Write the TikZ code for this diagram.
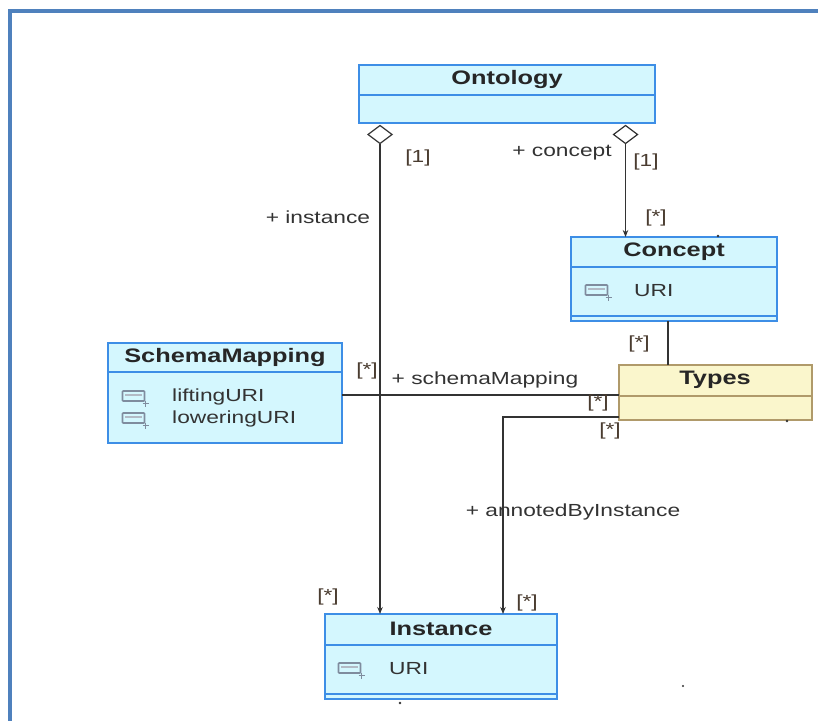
\documentclass[tikz,border=0pt]{standalone}
\usepackage{fontspec}
\setmainfont{Liberation Sans}[FakeStretch=1.3]
\usetikzlibrary{shapes.geometric,arrows.meta}
\definecolor{clsfill}{HTML}{D4F7FE}
\definecolor{clsline}{HTML}{3D8EE6}
\definecolor{typfill}{HTML}{FAF6CC}
\definecolor{typline}{HTML}{B09A6A}
\definecolor{framec}{HTML}{4F81BD}
\definecolor{multc}{HTML}{4A3C30}
\definecolor{connc}{HTML}{333333}
\definecolor{iconc}{HTML}{7F8C9E}
\tikzset{
  cls/.style={draw=clsline, fill=clsfill, line width=1.6pt, rectangle, inner sep=0pt, outer sep=0pt},
  typ/.style={draw=typline, fill=typfill, line width=1.6pt, rectangle, inner sep=0pt, outer sep=0pt},
  clsdiv/.style={draw=clsline, line width=1.6pt},
  typdiv/.style={draw=typline, line width=1.6pt},
  ctitle/.style={font=\bfseries\fontsize{19.5}{22}\selectfont, text=black!85, inner sep=0pt},
  lbl/.style={font=\fontsize{17.5}{20}\selectfont, text=black!80, inner sep=0pt},
  mul/.style={lbl, text=multc},
  assoc/.style={draw=connc, line width=1.4pt},
  arr/.style={assoc, -{Stealth[length=7pt,width=5.5pt]}},
  agg/.style={diamond, draw=connc, fill=white, line width=1.2pt, minimum width=24pt, minimum height=18pt, inner sep=0pt, outer sep=0pt},
  attricon/.pic={
    \draw[iconc, line width=1.6pt, rounded corners=0.8pt] (-12,-6) rectangle (10,4);
    \draw[iconc!60, line width=1.4pt] (-9.5,-2) -- (7.5,-2);
    \draw[iconc, line width=1.2pt] (8,6.5) -- (14,6.5) (11,3.5) -- (11,9.5);
  }
}
\begin{document}
\begin{tikzpicture}[x=1pt,y=-1pt]
\useasboundingbox (0,0) rectangle (818,720);
\fill[white] (0,0) rectangle (818,720);
% frame
\draw[framec, line width=4pt] (10,722) -- (10,11) -- (820,11);

% Ontology
\node[cls, minimum width=296pt, minimum height=58pt] (onto) at (507,94) {};
\draw[clsdiv] (onto.west |- 0,95) -- (onto.east |- 0,95);
\node[ctitle] (ontot) at (507,80) {Ontology};

% Concept
\node[cls, minimum width=206pt, minimum height=84pt] (concept) at (674,279) {};
\draw[clsdiv] (concept.west |- 0,267) -- (concept.east |- 0,267);
\draw[clsdiv] (concept.west |- 0,316) -- (concept.east |- 0,316);
\node[ctitle] (conceptt) at (674,252) {Concept};
\pic at (597.5,291) {attricon};
\node[lbl, anchor=west] (concepturi) at (634,291) {URI};

% Types
\node[typ, minimum width=193pt, minimum height=55pt] (types) at (715.5,392.5) {};
\draw[typdiv] (types.west |- 0,396) -- (types.east |- 0,396);
\node[ctitle] (typest) at (715,380) {Types};

% SchemaMapping
\node[cls, minimum width=234pt, minimum height=100pt] (sm) at (225,393) {};
\draw[clsdiv] (sm.west |- 0,372) -- (sm.east |- 0,372);
\node[ctitle] (smt) at (225,357) {SchemaMapping};
\pic at (134.5,397) {attricon};
\pic at (134.5,419) {attricon};
\node[lbl, anchor=west] (lift) at (172,397) {liftingURI};
\node[lbl, anchor=west] (lower) at (172,419) {loweringURI};

% Instance
\node[cls, minimum width=232pt, minimum height=85pt] (inst) at (441,656.5) {};
\draw[clsdiv] (inst.west |- 0,645) -- (inst.east |- 0,645);
\draw[clsdiv] (inst.west |- 0,694) -- (inst.east |- 0,694);
\node[ctitle] (instt) at (441,629) {Instance};
\pic at (350.5,669) {attricon};
\node[lbl, anchor=west] (insturi) at (389,669) {URI};

% aggregations
\node[agg] (d1) at (380,134.5) {};
\node[agg] (d2) at (625.5,134.5) {};
\draw[arr] (d1.south) -- (d1.south |- inst.north);
\draw[arr] (d2.south) -- (d2.south |- concept.north);

% Concept -- Types
\draw[assoc] ([xshift=-6pt]concept.south) -- ([xshift=-6pt]concept.south |- types.north);

% SchemaMapping -- Types
\draw[assoc] (sm.east |- 0,395) -- (types.west |- 0,395);

% Types -> Instance
\coordinate (bend) at (503,417);
\draw[arr] (types.west |- bend) -- (bend) -- (bend |- inst.north);

% labels
\node[mul] (m1) at (418,158) {[1]};
\node[lbl] (linst) at (318,217) {+ instance};
\node[lbl] (lconc) at (562,153) {+ concept};
\node[mul] (m2) at (646,162) {[1]};
\node[mul] (m3) at (656,218) {[*]};
\node[mul] (m4) at (639,344) {[*]};
\node[mul] (m5) at (367,371) {[*]};
\node[lbl] (lsm) at (485,380) {+ schemaMapping};
\node[mul] (m6) at (598,403) {[*]};
\node[mul] (m7) at (610,431) {[*]};
\node[lbl] (lann) at (573,512) {+ annotedByInstance};
\node[mul] (m8) at (328,597) {[*]};
\node[mul] (m9) at (527,603) {[*]};

% small marks
\fill[connc] (718,236) circle (1.3pt);
\fill[connc] (787,421) circle (1.3pt);
\fill[connc] (683,686) circle (1.2pt);
\fill[connc] (400,703) circle (1.3pt);
\end{tikzpicture}
\end{document}
